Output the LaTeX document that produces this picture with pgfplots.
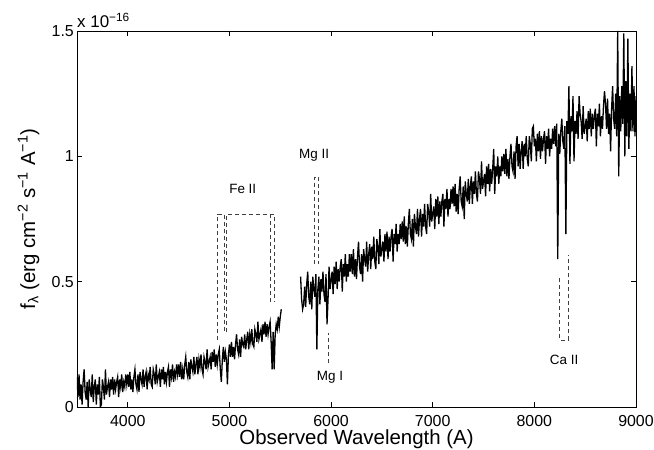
\documentclass[border=0pt]{standalone}
\usepackage{fontspec}
\setmainfont{Liberation Sans}
\usepackage{pgfplots}
\pgfplotsset{compat=1.18}
\begin{document}
\begin{tikzpicture}
\begin{axis}[name=ax, scale only axis, width=559bp, height=376bp,
  xmin=3500, xmax=9000, ymin=0, ymax=1.5,
  xtick={4000,5000,6000,7000,8000,9000}, xticklabels={4000,5000,6000,7000,8000,9000},
  ytick={0,0.5,1,1.5}, yticklabels={0,0.5,1,1.5},
  tick align=inside, major tick length=5bp,
  axis line style={line width=0.9bp},
  every tick/.style={black, line width=0.7bp},
  ticklabel style={font=\fontsize{16}{19}\selectfont},
  xticklabel style={inner sep=0pt, yshift=-8.5bp},
  yticklabel style={inner sep=0pt, xshift=-3bp},
  label style={font=\fontsize{20.5}{24}\selectfont},
  xlabel={Observed Wavelength (A)},
  ylabel={f\textsubscript{λ} (erg cm\textsuperscript{−2} s\textsuperscript{−1} A\textsuperscript{−1})},
  xlabel style={at={(axis description cs:0.5,-0.101)}, anchor=base},
  ylabel style={at={(axis description cs:-0.0751,0.5)}, anchor=base},
  annot/.style={black!75, line width=0.6bp, dash pattern=on 4bp off 3bp},
]
\addplot[black, line width=1.3bp] coordinates {
(3500,0.12)(3510,0.04)(3520,0.13)(3530,0.03)(3540,0.09)(3550,0.01)(3560,0.10)(3570,0.15)(3580,0.06)(3590,0.03)
(3600,0.10)(3610,0.00)(3620,0.11)(3630,0.07)(3640,0.04)(3650,0.13)(3660,0.02)(3670,0.08)(3680,0.11)(3690,0.01)
(3700,0.09)(3710,0.05)(3720,0.12)(3730,0.00)(3740,0.01)(3750,0.11)(3760,0.08)(3770,0.03)(3780,0.15)(3790,0.05)
(3800,0.08)(3810,0.10)(3820,0.04)(3830,0.11)(3840,0.07)(3850,0.12)(3860,0.05)(3870,0.11)(3880,0.07)(3890,0.10)
(3900,0.12)(3910,0.04)(3920,0.11)(3930,0.08)(3940,0.13)(3950,0.06)(3960,0.10)(3970,0.08)(3980,0.13)(3990,0.09)
(4000,0.13)(4010,0.08)(4020,0.14)(4030,0.07)(4040,0.11)(4050,0.06)(4060,0.12)(4070,0.15)(4080,0.09)(4090,0.07)
(4100,0.13)(4110,0.06)(4120,0.14)(4130,0.11)(4140,0.09)(4150,0.15)(4160,0.08)(4170,0.12)(4180,0.14)(4190,0.07)
(4200,0.13)(4210,0.11)(4220,0.16)(4230,0.09)(4240,0.08)(4250,0.15)(4260,0.13)(4270,0.09)(4280,0.17)(4290,0.10)
(4300,0.12)(4310,0.14)(4320,0.08)(4330,0.15)(4340,0.11)(4350,0.16)(4360,0.09)(4370,0.14)(4380,0.10)(4390,0.14)
(4400,0.16)(4410,0.08)(4420,0.15)(4430,0.12)(4440,0.17)(4450,0.10)(4460,0.14)(4470,0.12)(4480,0.17)(4490,0.13)
(4500,0.17)(4510,0.12)(4520,0.18)(4530,0.11)(4540,0.15)(4550,0.11)(4560,0.17)(4570,0.20)(4580,0.14)(4590,0.12)
(4600,0.18)(4610,0.11)(4620,0.19)(4630,0.16)(4640,0.14)(4650,0.20)(4660,0.13)(4670,0.17)(4680,0.20)(4690,0.13)
(4700,0.19)(4710,0.16)(4720,0.21)(4730,0.15)(4740,0.13)(4750,0.20)(4760,0.18)(4770,0.15)(4780,0.23)(4790,0.16)
(4800,0.18)(4810,0.20)(4820,0.15)(4830,0.22)(4840,0.18)(4850,0.23)(4860,0.16)(4870,0.21)(4880,0.17)(4890,0.21)
(4900,0.23)(4910,0.15)(4920,0.10)(4930,0.19)(4940,0.24)(4950,0.18)(4960,0.22)(4970,0.19)(4980,0.09)(4990,0.21)
(5000,0.25)(5010,0.20)(5020,0.26)(5030,0.20)(5040,0.24)(5050,0.19)(5060,0.25)(5070,0.29)(5080,0.23)(5090,0.21)
(5100,0.27)(5110,0.20)(5120,0.28)(5130,0.25)(5140,0.24)(5150,0.29)(5160,0.23)(5170,0.27)(5180,0.30)(5190,0.23)
(5200,0.29)(5210,0.26)(5220,0.31)(5230,0.25)(5240,0.24)(5250,0.31)(5260,0.29)(5270,0.26)(5280,0.34)(5290,0.27)
(5300,0.29)(5310,0.31)(5320,0.26)(5330,0.33)(5340,0.29)(5350,0.34)(5360,0.28)(5370,0.33)(5380,0.29)(5390,0.32)
(5400,0.34)(5410,0.26)(5420,0.15)(5430,0.30)(5440,0.15)(5450,0.29)(5460,0.33)(5470,0.31)(5480,0.36)(5490,0.32)
(5500,0.36)(5510,0.39)
};
\addplot[black, line width=1.3bp] coordinates {
(5700,0.52)(5710,0.43)(5720,0.39)(5730,0.41)(5740,0.48)(5750,0.40)(5760,0.49)(5770,0.54)(5780,0.44)(5790,0.41)
(5800,0.50)(5810,0.39)(5820,0.52)(5830,0.47)(5840,0.44)(5850,0.53)(5860,0.23)(5870,0.47)(5880,0.52)(5890,0.41)
(5900,0.51)(5910,0.46)(5920,0.54)(5930,0.45)(5940,0.42)(5950,0.53)(5960,0.33)(5970,0.43)(5980,0.56)(5990,0.47)
(6000,0.51)(6010,0.54)(6020,0.45)(6030,0.56)(6040,0.49)(6050,0.58)(6060,0.47)(6070,0.55)(6080,0.50)(6090,0.56)
(6100,0.59)(6110,0.46)(6120,0.57)(6130,0.52)(6140,0.61)(6150,0.50)(6160,0.57)(6170,0.52)(6180,0.61)(6190,0.54)
(6200,0.61)(6210,0.53)(6220,0.63)(6230,0.52)(6240,0.59)(6250,0.51)(6260,0.60)(6270,0.66)(6280,0.56)(6290,0.53)
(6300,0.61)(6310,0.50)(6320,0.63)(6330,0.59)(6340,0.56)(6350,0.66)(6360,0.54)(6370,0.61)(6380,0.65)(6390,0.55)
(6400,0.64)(6410,0.59)(6420,0.68)(6430,0.58)(6440,0.55)(6450,0.67)(6460,0.64)(6470,0.57)(6480,0.71)(6490,0.60)
(6500,0.63)(6510,0.66)(6520,0.58)(6530,0.69)(6540,0.62)(6550,0.70)(6560,0.59)(6570,0.68)(6580,0.62)(6590,0.68)
(6600,0.71)(6610,0.58)(6620,0.69)(6630,0.65)(6640,0.73)(6650,0.62)(6660,0.69)(6670,0.65)(6680,0.73)(6690,0.67)
(6700,0.74)(6710,0.66)(6720,0.76)(6730,0.65)(6740,0.72)(6750,0.64)(6760,0.73)(6770,0.79)(6780,0.69)(6790,0.67)
(6800,0.75)(6810,0.64)(6820,0.77)(6830,0.72)(6840,0.69)(6850,0.79)(6860,0.68)(6870,0.75)(6880,0.79)(6890,0.68)
(6900,0.77)(6910,0.72)(6920,0.81)(6930,0.72)(6940,0.69)(6950,0.81)(6960,0.78)(6970,0.72)(6980,0.85)(6990,0.74)
(7000,0.77)(7010,0.80)(7020,0.71)(7030,0.83)(7040,0.76)(7050,0.84)(7060,0.73)(7070,0.82)(7080,0.76)(7090,0.82)
(7100,0.85)(7110,0.72)(7120,0.83)(7130,0.79)(7140,0.87)(7150,0.76)(7160,0.83)(7170,0.79)(7180,0.87)(7190,0.81)
(7200,0.88)(7210,0.80)(7220,0.89)(7230,0.78)(7240,0.85)(7250,0.77)(7260,0.87)(7270,0.92)(7280,0.82)(7290,0.80)
(7300,0.88)(7310,0.75)(7320,0.90)(7330,0.85)(7340,0.82)(7350,0.91)(7360,0.81)(7370,0.88)(7380,0.92)(7390,0.81)
(7400,0.90)(7410,0.85)(7420,0.94)(7430,0.85)(7440,0.82)(7450,0.94)(7460,0.91)(7470,0.85)(7480,0.98)(7490,0.87)
(7500,0.90)(7510,0.93)(7520,0.84)(7530,0.96)(7540,0.89)(7550,0.97)(7560,0.86)(7570,0.95)(7580,0.89)(7590,0.95)
(7600,1.03)(7610,0.85)(7620,0.96)(7630,0.92)(7640,1.00)(7650,0.89)(7660,0.96)(7670,0.92)(7680,1.00)(7690,0.94)
(7700,1.01)(7710,0.93)(7720,1.03)(7730,0.92)(7740,0.99)(7750,0.91)(7760,1.00)(7770,1.05)(7780,0.96)(7790,0.94)
(7800,1.02)(7810,0.91)(7820,1.04)(7830,1.08)(7840,0.96)(7850,1.05)(7860,0.95)(7870,1.02)(7880,1.06)(7890,0.95)
(7900,1.05)(7910,1.00)(7920,1.08)(7930,0.99)(7940,0.96)(7950,1.08)(7960,1.05)(7970,0.98)(7980,1.11)(7990,1.12)
(8000,1.04)(8010,1.07)(8020,0.98)(8030,1.09)(8040,1.02)(8050,1.10)(8060,0.99)(8070,1.08)(8080,1.02)(8090,1.07)
(8100,1.10)(8110,0.97)(8120,1.08)(8130,1.03)(8140,1.11)(8150,1.00)(8160,1.07)(8170,1.03)(8180,1.11)(8190,1.05)
(8200,1.12)(8210,1.04)(8220,1.13)(8230,0.59)(8240,1.09)(8250,1.01)(8260,1.10)(8270,1.15)(8280,1.06)(8290,1.03)
(8300,1.12)(8310,0.69)(8320,1.14)(8330,1.09)(8340,1.28)(8350,0.97)(8360,1.16)(8370,1.10)(8380,1.24)(8390,0.98)
(8400,1.14)(8410,1.09)(8420,1.18)(8430,1.07)(8440,1.24)(8450,1.17)(8460,1.14)(8470,1.07)(8480,1.20)(8490,1.09)
(8500,1.12)(8510,1.15)(8520,1.06)(8530,1.18)(8540,1.11)(8550,1.19)(8560,1.08)(8570,1.17)(8580,1.11)(8590,1.16)
(8600,1.19)(8610,1.04)(8620,1.17)(8630,1.12)(8640,1.21)(8650,1.08)(8660,1.16)(8670,1.11)(8680,1.20)(8690,1.26)
(8700,1.21)(8710,1.11)(8720,1.23)(8730,1.09)(8740,1.17)(8750,1.02)(8760,1.19)(8770,1.28)(8780,1.15)(8790,1.11)
(8800,1.25)(8810,1.08)(8820,1.50)(8830,0.92)(8840,1.24)(8850,1.10)(8860,1.28)(8870,1.13)(8880,1.49)(8890,1.00)
(8900,1.30)(8910,1.08)(8920,1.47)(8930,1.03)(8940,1.25)(8950,1.10)(8960,1.36)(8970,1.10)(8980,1.28)(8990,1.08)
(9000,1.24)
};
\addplot[annot] coordinates {(4885,0.267)(4885,0.77)(4947,0.77)(4947,0.30)};
\addplot[annot] coordinates {(4973,0.30)(4973,0.77)(5439,0.77)(5439,0.42)};
\addplot[annot] coordinates {(5400,0.42)(5400,0.77)};
\addplot[annot] coordinates {(5836,0.57)(5836,0.916)(5879,0.916)(5879,0.57)};
\addplot[annot] coordinates {(5977,0.174)(5977,0.294)};
\addplot[annot] coordinates {(8247,0.513)(8247,0.267)(8333,0.267)(8333,0.606)};
\node[font=\fontsize{13.5}{16}\selectfont] at (axis cs:5131,0.868) {Fe II};
\node[font=\fontsize{13.5}{16}\selectfont] at (axis cs:5833,1.005) {Mg II};
\node[font=\fontsize{13.5}{16}\selectfont] at (axis cs:5990,0.118) {Mg I};
\node[font=\fontsize{13.5}{16}\selectfont] at (axis cs:8293,0.19) {Ca II};
\end{axis}
\node[anchor=base west, inner sep=0pt, font=\fontsize{17}{20}\selectfont] at ([yshift=3bp]ax.north west) {x 10\textsuperscript{−16}};
\pgfresetboundingbox
\path[use as bounding box] ([shift={(-77bp,-43bp)}]ax.south west) rectangle ([shift={(18bp,31bp)}]ax.north east);
\end{tikzpicture}
\end{document}
